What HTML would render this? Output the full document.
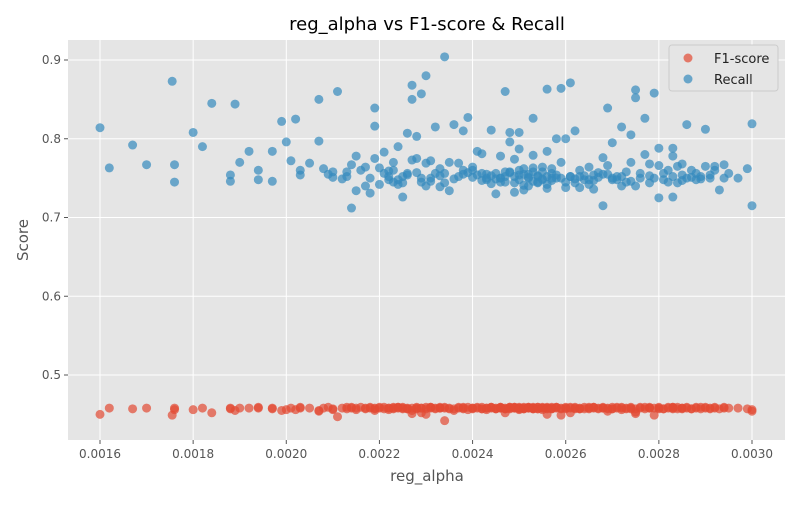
<!DOCTYPE html>
<html><head><meta charset="utf-8"><style>
body{margin:0;background:#fff;font-family:"Liberation Sans","DejaVu Sans",sans-serif}
svg text{font-family:"DejaVu Sans","Liberation Sans",sans-serif}
</style></head><body>
<svg id="chart" width="800" height="500" xmlns="http://www.w3.org/2000/svg">
<rect width="800" height="500" fill="#fff"/>
<rect x="68" y="40" width="717" height="400" fill="#E5E5E5"/>
<g id="grid"></g><g id="ticks"></g><g id="marks"></g>
<text x="427" y="30" font-size="18" text-anchor="middle" fill="#000">reg_alpha vs F1-score &amp; Recall</text>
<text x="427" y="481" font-size="15" text-anchor="middle" fill="#555">reg_alpha</text>
<text x="28" y="240" font-size="15" text-anchor="middle" fill="#555" transform="rotate(-90 28 240)">Score</text>
<g>
<rect x="669" y="45" width="109" height="46" rx="3" fill="#E5E5E5" stroke="#ccc"/>
<circle cx="688" cy="58" r="4.5" fill="#E24A33" fill-opacity="0.7"/>
<text x="714" y="63" font-size="13" fill="#222">F1-score</text>
<circle cx="688" cy="79" r="4.5" fill="#348ABD" fill-opacity="0.7"/>
<text x="714" y="84" font-size="13" fill="#222">Recall</text>
</g>
</svg>
<script>
const alphas=[0.00160,0.00162,0.00167,0.00170,0.001755,0.00176,0.00176,0.00180,0.00182,0.00184,0.00188,0.00188,0.00189,0.00190,0.00192,0.00194,0.00194,0.00197,0.00197,0.00199,0.00200,0.00201,0.00202,0.00203,0.00203,0.00205,0.00207,0.00207,0.00208,0.00209,0.00210,0.00210,0.00211,0.00212,0.00213,0.00213,0.00214,0.00214,0.00215,0.00215,0.00216,0.00217,0.00217,0.00218,0.00218,0.00219,0.00219,0.00219,0.00220,0.00220,0.00221,0.00221,0.00222,0.00222,0.00223,0.00223,0.00223,0.00224,0.00224,0.00225,0.00225,0.00225,0.00226,0.00226,0.00227,0.00227,0.00227,0.00228,0.00228,0.00228,0.00229,0.00229,0.00230,0.00230,0.00230,0.00231,0.00231,0.00232,0.00232,0.00233,0.00233,0.00234,0.00234,0.00234,0.00235,0.00235,0.00236,0.00237,0.00237,0.00238,0.00238,0.00239,0.00239,0.00240,0.00240,0.00241,0.00241,0.00242,0.00242,0.00243,0.00243,0.00244,0.00244,0.00245,0.00245,0.00246,0.00246,0.00247,0.00247,0.00248,0.00248,0.00248,0.00249,0.00249,0.00250,0.00250,0.00250,0.00251,0.00251,0.00252,0.00252,0.00253,0.00253,0.00253,0.00254,0.00254,0.00255,0.00255,0.00256,0.00256,0.00256,0.00257,0.00257,0.00258,0.00258,0.00259,0.00259,0.00260,0.00260,0.00261,0.00261,0.00262,0.00262,0.00263,0.00263,0.00264,0.00265,0.00265,0.00266,0.00266,0.00267,0.00268,0.00268,0.00269,0.00269,0.00270,0.00270,0.00271,0.00272,0.00272,0.00273,0.00273,0.00274,0.00274,0.00275,0.00275,0.00275,0.00276,0.00277,0.00277,0.00278,0.00278,0.00279,0.00279,0.00280,0.00280,0.00280,0.00281,0.00282,0.00282,0.00283,0.00283,0.00283,0.00284,0.00284,0.00285,0.00285,0.00286,0.00286,0.00287,0.00288,0.00288,0.00289,0.00290,0.00290,0.00291,0.00292,0.00292,0.00293,0.00294,0.00294,0.00295,0.00297,0.00299,0.00300,0.00300,
0.00222,0.00224,0.00226,0.00229,0.00231,0.00233,0.00236,0.00238,0.00240,0.00242,0.00244,0.00246,0.00247,0.00249,0.00250,0.00251,0.00252,0.00253,0.00254,0.00255,0.00256,0.00257,0.00258,0.00259,0.00260,0.00261,0.00262,0.00264,0.00266,0.00267,0.00269,0.00271,0.00272,0.00274,0.00276,0.00278,0.00281,0.00283,0.00285,0.00287,0.00289,0.00291,0.00248,0.00249,0.00250,0.00251,0.00252,0.00253,0.00254,0.00255,0.00256,0.00257,0.00243,0.00245,0.00246,0.00247,0.00263,0.00265,0.00268,0.00270];
const recall=[0.814,0.763,0.792,0.767,0.873,0.767,0.745,0.808,0.790,0.845,0.754,0.746,0.844,0.770,0.784,0.748,0.760,0.746,0.784,0.822,0.796,0.772,0.825,0.760,0.754,0.769,0.850,0.797,0.762,0.755,0.751,0.758,0.860,0.749,0.752,0.758,0.712,0.767,0.778,0.734,0.760,0.740,0.764,0.731,0.750,0.816,0.839,0.775,0.742,0.763,0.756,0.783,0.748,0.759,0.745,0.770,0.760,0.742,0.790,0.726,0.752,0.744,0.807,0.756,0.850,0.868,0.773,0.803,0.757,0.775,0.857,0.745,0.880,0.769,0.740,0.772,0.750,0.815,0.756,0.762,0.739,0.904,0.744,0.756,0.734,0.770,0.818,0.752,0.769,0.810,0.760,0.827,0.757,0.760,0.764,0.754,0.784,0.781,0.756,0.750,0.748,0.743,0.811,0.730,0.756,0.778,0.750,0.752,0.860,0.808,0.758,0.796,0.774,0.732,0.808,0.754,0.787,0.735,0.762,0.750,0.740,0.826,0.779,0.758,0.744,0.752,0.764,0.748,0.863,0.784,0.737,0.756,0.762,0.800,0.750,0.864,0.770,0.738,0.800,0.752,0.871,0.810,0.744,0.738,0.760,0.748,0.764,0.742,0.754,0.736,0.757,0.776,0.715,0.839,0.766,0.795,0.748,0.752,0.815,0.740,0.758,0.745,0.805,0.770,0.740,0.862,0.852,0.756,0.826,0.780,0.744,0.768,0.858,0.750,0.725,0.788,0.766,0.756,0.745,0.760,0.788,0.726,0.778,0.744,0.765,0.768,0.754,0.818,0.750,0.760,0.748,0.756,0.752,0.812,0.765,0.750,0.760,0.765,0.735,0.750,0.767,0.756,0.750,0.762,0.819,0.715,
0.752,0.748,0.754,0.750,0.746,0.753,0.749,0.755,0.751,0.747,0.753,0.750,0.745,0.752,0.748,0.755,0.751,0.746,0.753,0.749,0.752,0.747,0.754,0.750,0.745,0.752,0.749,0.753,0.747,0.751,0.755,0.748,0.752,0.746,0.750,0.753,0.748,0.752,0.747,0.751,0.749,0.754,0.757,0.744,0.760,0.741,0.755,0.763,0.745,0.758,0.742,0.750,0.755,0.749,0.745,0.758,0.752,0.748,0.755,0.750];
const f1=[0.450,0.458,0.457,0.458,0.449,0.458,0.456,0.456,0.458,0.452,0.458,0.457,0.455,0.458,0.458,0.458,0.459,0.458,0.457,0.455,0.456,0.458,0.456,0.458,0.459,0.458,0.455,0.454,0.458,0.459,0.457,0.456,0.447,0.458,0.459,0.457,0.458,0.459,0.458,0.456,0.459,0.458,0.457,0.458,0.459,0.455,0.457,0.458,0.459,0.458,0.457,0.459,0.458,0.456,0.459,0.458,0.457,0.458,0.459,0.457,0.458,0.459,0.458,0.457,0.451,0.455,0.458,0.457,0.459,0.458,0.452,0.458,0.450,0.459,0.457,0.458,0.459,0.458,0.457,0.459,0.458,0.442,0.458,0.459,0.457,0.458,0.455,0.458,0.459,0.457,0.458,0.456,0.459,0.458,0.457,0.459,0.458,0.457,0.459,0.458,0.456,0.459,0.458,0.457,0.458,0.459,0.458,0.457,0.452,0.459,0.458,0.457,0.458,0.459,0.456,0.458,0.459,0.458,0.457,0.459,0.458,0.457,0.459,0.458,0.457,0.459,0.458,0.456,0.450,0.458,0.459,0.458,0.457,0.459,0.458,0.449,0.457,0.458,0.459,0.458,0.452,0.457,0.459,0.458,0.457,0.459,0.458,0.457,0.459,0.458,0.457,0.459,0.458,0.454,0.458,0.457,0.459,0.458,0.456,0.459,0.458,0.457,0.458,0.459,0.457,0.451,0.453,0.458,0.459,0.457,0.458,0.459,0.449,0.458,0.457,0.459,0.458,0.457,0.459,0.458,0.457,0.459,0.458,0.457,0.459,0.458,0.457,0.459,0.458,0.457,0.459,0.458,0.457,0.458,0.459,0.457,0.458,0.459,0.457,0.458,0.459,0.458,0.458,0.457,0.456,0.454,
0.458,0.459,0.457,0.458,0.459,0.458,0.457,0.459,0.458,0.457,0.459,0.458,0.457,0.459,0.458,0.457,0.459,0.458,0.457,0.459,0.458,0.457,0.459,0.458,0.457,0.459,0.458,0.457,0.459,0.458,0.457,0.459,0.458,0.457,0.459,0.458,0.457,0.459,0.458,0.457,0.459,0.458,0.459,0.458,0.457,0.459,0.458,0.457,0.459,0.458,0.457,0.459,0.458,0.457,0.459,0.458,0.457,0.459,0.458,0.457];
const xTicks=[0.0016,0.0018,0.0020,0.0022,0.0024,0.0026,0.0028,0.0030];
const xTickLabels=["0.0016","0.0018","0.0020","0.0022","0.0024","0.0026","0.0028","0.0030"];
const yTicks=[0.5,0.6,0.7,0.8,0.9];
const yTickLabels=["0.5","0.6","0.7","0.8","0.9"];

const NS="http://www.w3.org/2000/svg";
function xs(v){return 100+(v-0.0016)/0.0014*652;}
function ys(v){return 375-(v-0.5)/0.4*315;}
function mk(tag,attrs,parent){const e=document.createElementNS(NS,tag);for(const k in attrs)e.setAttribute(k,attrs[k]);parent.appendChild(e);return e;}
const grid=document.getElementById('grid'),ticks=document.getElementById('ticks'),marks=document.getElementById('marks');
xTicks.forEach((t,i)=>{
  const x=xs(t);
  const g=mk('line',{x1:x,x2:x,y1:40,y2:440,stroke:'#fff','stroke-width':1},grid);
  
  
  const tk=mk('line',{x1:x,x2:x,y1:440,y2:444,stroke:'#555'},ticks);
  
  
  const tx=mk('text',{x:x,y:458,'font-size':12,'text-anchor':'middle',fill:'#555'},ticks);
  tx.textContent=xTickLabels[i];
  
  
});
yTicks.forEach((t,i)=>{
  const y=ys(t);
  const g=mk('line',{x1:68,x2:785,y1:y,y2:y,stroke:'#fff','stroke-width':1},grid);
  
  
  const tk=mk('line',{x1:64,x2:68,y1:y,y2:y,stroke:'#555'},ticks);
  
  
  const tx=mk('text',{x:61,y:y+4,'font-size':12,'text-anchor':'end',fill:'#555'},ticks);
  tx.textContent=yTickLabels[i];
  
  
});
alphas.forEach((a,i)=>{
  const c=mk('circle',{cx:xs(a),cy:ys(f1[i]),r:4.5,fill:'#E24A33','fill-opacity':0.7},marks);
  
  
});
alphas.forEach((a,i)=>{
  const c=mk('circle',{cx:xs(a),cy:ys(recall[i]),r:4.5,fill:'#348ABD','fill-opacity':0.7},marks);
  
  
});
</script>
</body></html>
